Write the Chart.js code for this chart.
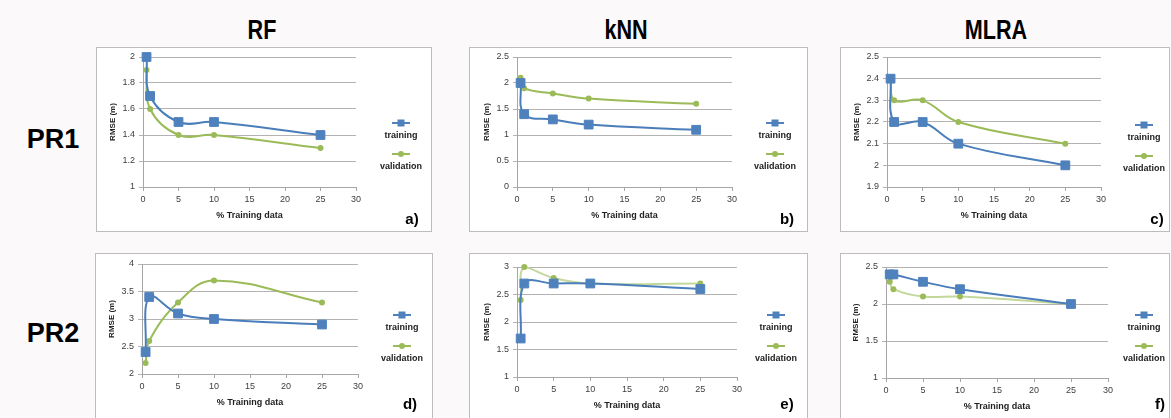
<!DOCTYPE html>
<html>
<head>
<meta charset="utf-8">
<script src="https://cdn.jsdelivr.net/npm/chart.js@4"></script>
<style>
  html, body { margin: 0; padding: 0; }
  body { width: 1171px; height: 418px; background: #fbf9fa; position: relative; overflow: hidden; font-family: "Liberation Sans", Arial, sans-serif; }
  .panel { position: absolute; background: #fff; border: 1px solid #bdbdbd; box-sizing: border-box; }
  canvas { position: absolute; }
  .colTitle { position: absolute; font-family: "Liberation Sans", Arial, sans-serif; font-weight: bold; font-size: 27px; transform: translate(-50%, -50%) scaleX(0.8); color: #000; }
  .rowTitle { position: absolute; font-weight: bold; font-size: 27px; transform: translate(-50%, -50%); color: #000; }
  .letter { position: absolute; font-weight: bold; font-size: 15px; transform: translate(-50%, -50%); color: #000; }
  .lg { position: absolute; transform: translate(-50%, -50%); font-size: 9px; font-weight: bold; color: #222; white-space: nowrap; }
  .mk { position: absolute; width: 18px; height: 2px; transform: translate(-50%, -50%); }
  .mk span { position: absolute; left: 50%; top: 50%; transform: translate(-50%, -50%); }
</style>
</head>
<body>
<script>
// --- data ---
const pctTraining = [0.5, 1, 5, 10, 25];
const xTicks = [0, 30, 5];

const rfPr1Training = [2.0, 1.7, 1.5, 1.5, 1.4];
const rfPr1Validation = [1.9, 1.6, 1.4, 1.4, 1.3];
const rfPr1Y = [1, 2, 0.2];

const knnPr1Training = [2.0, 1.4, 1.3, 1.2, 1.1];
const knnPr1Validation = [2.1, 1.9, 1.8, 1.7, 1.6];
const knnPr1Y = [0, 2.5, 0.5];

const mlraPr1Training = [2.4, 2.2, 2.2, 2.1, 2.0];
const mlraPr1Validation = [2.4, 2.3, 2.3, 2.2, 2.1];
const mlraPr1Y = [1.9, 2.5, 0.1];

const rfPr2Training = [2.4, 3.4, 3.1, 3.0, 2.9];
const rfPr2Validation = [2.2, 2.6, 3.3, 3.7, 3.3];
const rfPr2Y = [2, 4, 0.5];

const knnPr2Training = [1.7, 2.7, 2.7, 2.7, 2.6];
const knnPr2Validation = [2.4, 3.0, 2.8, 2.7, 2.7];
const knnPr2Y = [1, 3, 0.5];

const mlraPr2Training = [2.4, 2.4, 2.3, 2.2, 2.0];
const mlraPr2Validation = [2.3, 2.2, 2.1, 2.1, 2.0];
const mlraPr2Y = [1, 2.5, 0.5];

const colTitles = ['RF', 'kNN', 'MLRA'];
const rowTitles = ['PR1', 'PR2'];
const seriesNames = ['training', 'validation'];
const panelLetters = ['a)', 'b)', 'c)', 'd)', 'e)', 'f)'];

// --- style ---
const BLUE = '#4f81bd';
const BLUE_LINE = '#4a7ebb';
const GREEN = '#9bbb59';
const GREEN_LIGHT = '#c3d89a';
const Y_AXIS_W = 35;
const X_AXIS_H = 34;

const el = (cls, text, x, y) => {
    const d = document.createElement('div');
    d.className = cls;
    d.textContent = text;
    d.style.left = x + 'px';
    d.style.top = y + 'px';
    document.body.appendChild(d);
    return d;
};

const marker = (x, y, color, square) => {
    const m = document.createElement('div');
    m.className = 'mk';
    m.style.left = x + 'px';
    m.style.top = y + 'px';
    m.style.background = color;
    const s = document.createElement('span');
    s.style.background = color;
    s.style.width = square ? '7px' : '6px';
    s.style.height = square ? '7px' : '6px';
    if (!square) s.style.borderRadius = '50%';
    m.appendChild(s);
    document.body.appendChild(m);
};

const makePanel = (p) => {
    const box = document.createElement('div');
    box.className = 'panel';
    box.style.left = p.box[0] + 'px';
    box.style.top = p.box[1] + 'px';
    box.style.width = p.box[2] + 'px';
    box.style.height = p.box[3] + 'px';
    document.body.appendChild(box);

    const cv = document.createElement('canvas');
    cv.width = p.box[2];
    cv.height = p.box[3];
    cv.style.left = p.box[0] + 'px';
    cv.style.top = p.box[1] + 'px';
    document.body.appendChild(cv);

    const [L, T, W, H] = p.box;
    const [pl, pt, pr, pb] = p.plot;

    new Chart(cv.getContext('2d'), {
        type: 'line',
        data: {
            datasets: [
                {
                    label: seriesNames[0],
                    data: pctTraining.map((x, i) => ({ x: x, y: p.train[i] })),
                    borderColor: BLUE_LINE,
                    backgroundColor: BLUE,
                    borderWidth: 2,
                    pointStyle: 'rect',
                    pointRadius: 6.2,
                    pointBorderWidth: 1,
                    pointBorderColor: BLUE,
                    tension: 0.4,
                    clip: false,
                },
                {
                    label: seriesNames[1],
                    data: pctTraining.map((x, i) => ({ x: x, y: p.valid[i] })),
                    borderColor: p.lightValid ? GREEN_LIGHT : GREEN,
                    backgroundColor: GREEN,
                    borderWidth: 2,
                    pointStyle: 'circle',
                    pointRadius: 3,
                    pointBorderWidth: 0,
                    tension: 0.4,
                    clip: false,
                }
            ]
        },
        options: {
            responsive: false,
            animation: false,
            layout: { padding: { left: pl - L - Y_AXIS_W, top: pt - T, right: L + W - pr, bottom: T + H - pb - X_AXIS_H } },
            plugins: { legend: { display: false }, tooltip: { enabled: false } },
            scales: {
                x: {
                    type: 'linear',
                    min: xTicks[0], max: xTicks[1],
                    ticks: { stepSize: xTicks[2], color: '#404040', font: { size: 9, family: 'Liberation Sans' }, padding: 3, maxRotation: 0 },
                    grid: { drawOnChartArea: false, drawTicks: true, tickLength: 4, color: '#a6a6a6' },
                    border: { display: true, color: '#a6a6a6' },
                    title: { display: true, text: '% Training data', color: '#222', font: { size: 9, weight: 'bold', family: 'Liberation Sans' }, padding: 0 },
                    afterFit: (s) => { s.height = X_AXIS_H; }
                },
                y: {
                    min: p.y[0], max: p.y[1],
                    ticks: { stepSize: p.y[2], color: '#404040', font: { size: 9, family: 'Liberation Sans' }, padding: 4,
                        callback: (v) => +v.toFixed(2) },
                    grid: { color: '#b3b3b3', drawTicks: true, tickLength: 4 },
                    border: { display: true, color: '#a6a6a6' },
                    title: { display: true, text: 'RMSE (m)', color: '#222', font: { size: 8, weight: 'bold', family: 'Liberation Sans' }, padding: 0 },
                    afterFit: (s) => { s.width = Y_AXIS_W; }
                }
            }
        }
    });

    // legend: line+marker above the text
    const [lx, ly] = p.legend;
    marker(lx, ly, BLUE, true);
    el('lg', seriesNames[0], lx, ly + 12);
    marker(lx, ly + 31, GREEN, false);
    el('lg', seriesNames[1], lx, ly + 43);

    el('letter', p.letter, p.letterPos[0], p.letterPos[1]);
};

// column and row titles
el('colTitle', colTitles[0], 262, 30);
el('colTitle', colTitles[1], 626, 30);
el('colTitle', colTitles[2], 996, 30);
el('rowTitle', rowTitles[0], 53, 139);
el('rowTitle', rowTitles[1], 53, 333);

makePanel({ box: [96, 47, 336, 185], plot: [143, 57, 356, 187], y: rfPr1Y, train: rfPr1Training, valid: rfPr1Validation,
    legend: [401, 123], letter: panelLetters[0], letterPos: [412, 218] });
makePanel({ box: [469, 47, 339, 185], plot: [517, 57, 732, 187], y: knnPr1Y, train: knnPr1Training, valid: knnPr1Validation,
    legend: [775, 123], letter: panelLetters[1], letterPos: [787, 218] });
makePanel({ box: [840, 47, 330, 185], plot: [887, 57, 1101, 187], y: mlraPr1Y, train: mlraPr1Training, valid: mlraPr1Validation,
    legend: [1144, 125], letter: panelLetters[2], letterPos: [1157, 218] });
makePanel({ box: [95, 253, 338, 172], plot: [142, 264, 358, 374], y: rfPr2Y, train: rfPr2Training, valid: rfPr2Validation,
    legend: [402, 315], letter: panelLetters[3], letterPos: [410, 403] });
makePanel({ box: [469, 253, 339, 172], plot: [517, 267, 737, 377], y: knnPr2Y, train: knnPr2Training, valid: knnPr2Validation,
    lightValid: true, legend: [776, 315], letter: panelLetters[4], letterPos: [787, 403] });
makePanel({ box: [840, 253, 330, 172], plot: [886, 267, 1108, 378], y: mlraPr2Y, train: mlraPr2Training, valid: mlraPr2Validation,
    lightValid: true, legend: [1144, 315], letter: panelLetters[5], letterPos: [1160, 403] });
</script>
</body>
</html>
